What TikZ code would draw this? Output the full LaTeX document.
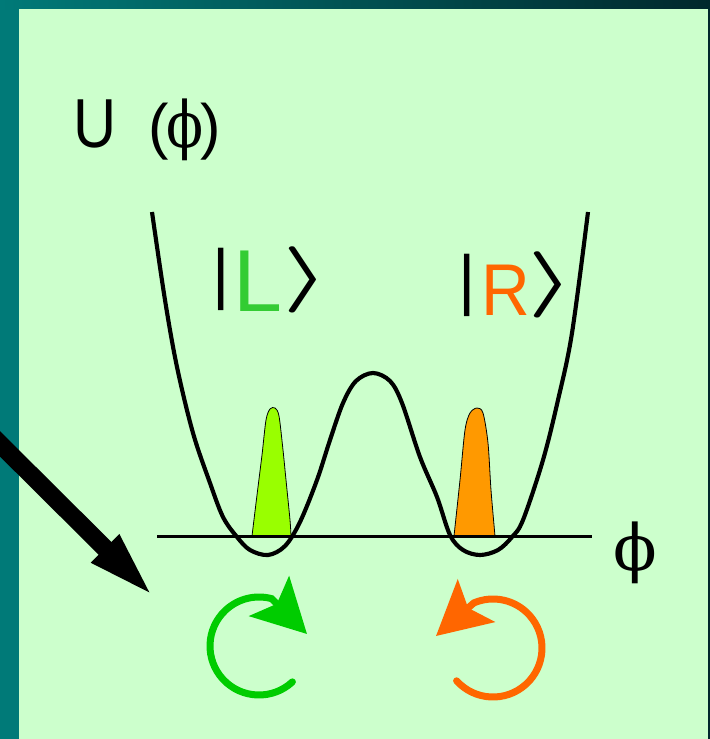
\documentclass[tikz,border=0pt]{standalone}
\usepackage{fontspec}
\setmainfont{Liberation Sans}
\newfontfamily\phifont{DejaVu Serif}
\usetikzlibrary{arrows.meta,positioning}
\definecolor{SlideTeal}{HTML}{007A78}
\definecolor{SlideDark}{HTML}{00282C}
\definecolor{SlideGreen}{HTML}{CCFFCC}
\definecolor{LeftGreen}{HTML}{33CC33}
\definecolor{RightOrange}{HTML}{FF6600}
\definecolor{PacketLime}{HTML}{99FF00}
\definecolor{PacketOrange}{HTML}{FF9900}
\definecolor{SpinGreen}{HTML}{00CC00}
\newcommand{\ketang}{\scalebox{3.2}[2]{\Huge\boldmath$\rangle$}}

\begin{document}
\begin{tikzpicture}[x=0.75pt, y=-0.75pt, >=Latex,
    ketpart/.style={inner sep=0pt, font=\fontsize{50}{56}\selectfont},
    packet/.style={draw=black, line width=0.6pt},
    spin/.style={line width=5.25pt, line cap=round,
      -{Stealth[length=40pt, width=42pt, inset=8pt]}}]
  \useasboundingbox (0,0) rectangle (710,739);
  \clip (0,0) rectangle (710,739);
  % slide frame
  \fill[SlideTeal] (0,0) rectangle (710,739);
  \shade[left color=SlideTeal, right color=SlideDark] (0,0) rectangle (710,9);
  \fill[SlideDark] (708,9) rectangle (710,739);
  \fill[SlideGreen] (19,9) rectangle (708,739);

  % axis label
  \node[anchor=base west, inner sep=0pt, font=\fontsize{46}{52}\selectfont] (ulabel) at (73,147)
    {{\fontsize{52}{56}\selectfont\scalebox{0.86}[1]{U}}\hspace{24pt}(\kern-2pt{\phifont\fontsize{48}{52}\selectfont\scalebox{0.85}[1]{ϕ}}\kern-2pt)};

  % wave packets
  \filldraw[packet, fill=PacketLime] plot[smooth, tension=0.5] coordinates
    {(252,536) (257,495) (262,455) (266,420) (270,409) (275,408) (279,416) (283,450) (286,480) (290,520) (291,536)} -- cycle;
  \filldraw[packet, fill=PacketOrange] plot[smooth, tension=0.5] coordinates
    {(454,536) (460,480) (465,430) (470,413) (477,408) (483,413) (488,443) (491,490) (495,536)} -- cycle;

  % phi axis
  \coordinate (axl) at (157,536);
  \coordinate (axr) at (592,536);
  \draw[line width=2.25pt] (axl) -- (axr);
  \node[inner sep=0pt] (philabel) at (635,553) {\phifont\fontsize{48}{52}\selectfont ϕ};

  % double well
  \draw[line width=3.1pt, line join=round] plot[smooth, tension=0.55] coordinates
    {(152,212) (165,300) (177,367) (193,433) (210,483) (223,517) (237,537) (250,550) (268,555)
     (285,546) (300,522) (317,480) (330,440) (343,403) (356,381) (373,373) (390,381) (402,403)
     (420,457) (437,497) (450,535) (463,550) (480,555) (498,550) (512,537) (523,520) (543,460)
     (558,400) (572,333) (588,212)};

  % kets
  \node[ketpart] (barL) at (221,279) {|};
  \node[ketpart, anchor=base west, font=\fontsize{66}{70}\selectfont, text=LeftGreen] (letL) at (233,311) {L};
  \node[ketpart] (angL) at (306,280) {\ketang};
  \node[ketpart] (barR) at (467,285) {|};
  \node[ketpart, anchor=base west, font=\fontsize{55}{60}\selectfont, text=RightOrange] (letR) at (481,315) {\scalebox{0.92}[1]{R}};
  \node[ketpart] (angR) at (551,285) {\ketang};

  % tunnelling arrow
  \coordinate (bigtail) at (-20,424);
  \coordinate (bigtip) at (158,601);
  \draw[line width=13.5pt, -{Triangle[length=56pt, width=25pt]}] (bigtail) -- (bigtip);

  % circulating currents
  \coordinate (gcen) at (259,646);
  \coordinate (gtip) at (307,634);
  \draw[spin, SpinGreen] (gcen) ++(47:49) arc[start angle=47, end angle=285, radius=49] -- (gtip);
  \coordinate (ocen) at (493,648);
  \coordinate (otip) at (436,636);
  \draw[spin, RightOrange] (ocen) ++(138:49) arc[start angle=138, end angle=-113, radius=49] -- (otip);
\end{tikzpicture}
\end{document}
